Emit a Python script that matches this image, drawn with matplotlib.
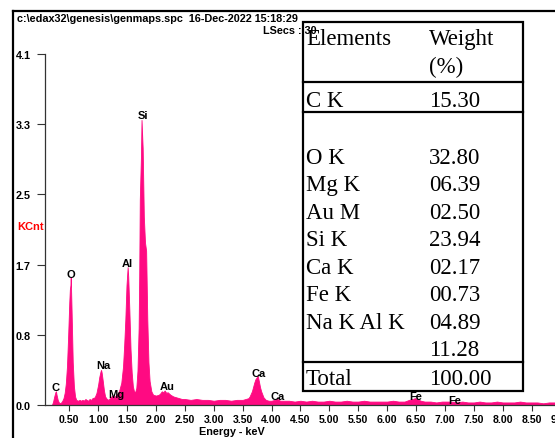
import numpy as np
import matplotlib
matplotlib.use("Agg")
import matplotlib.pyplot as plt
from matplotlib.patches import Rectangle

# spectrum: energy (keV) and counts (KCnt)
energy_kev = [
    0.20, 0.22, 0.24, 0.26, 0.27, 0.28, 0.30, 0.32, 0.34, 0.36, 0.38, 0.40,
    0.42, 0.44, 0.46, 0.48, 0.50, 0.51, 0.52, 0.525, 0.53, 0.54, 0.55, 0.56,
    0.58, 0.60, 0.62, 0.65, 0.68, 0.70, 0.73, 0.75, 0.78, 0.80, 0.83, 0.85,
    0.88, 0.90, 0.94, 0.97, 1.00, 1.02, 1.04, 1.05, 1.06, 1.08, 1.10, 1.12,
    1.15, 1.18, 1.20, 1.23, 1.25, 1.28, 1.30, 1.32, 1.36, 1.40, 1.43, 1.45,
    1.47, 1.49, 1.51, 1.52, 1.54, 1.56, 1.58, 1.60, 1.62, 1.64, 1.66, 1.68,
    1.70, 1.71, 1.72, 1.74, 1.75, 1.77, 1.79, 1.81, 1.83, 1.85, 1.87, 1.89,
    1.92, 1.95, 2.00, 2.05, 2.08, 2.10, 2.13, 2.15, 2.18, 2.20, 2.25, 2.30,
    2.35, 2.40, 2.45, 2.50, 2.60, 2.70, 2.80, 2.90, 3.00, 3.10, 3.20, 3.30,
    3.40, 3.50, 3.55, 3.60, 3.62, 3.66, 3.70, 3.72, 3.74, 3.76, 3.78, 3.80,
    3.82, 3.86, 3.90, 3.95, 4.00, 4.05, 4.10, 4.15, 4.20, 4.30, 4.40, 4.50,
    4.60, 4.70, 4.80, 4.90, 5.00, 5.10, 5.20, 5.30, 5.40, 5.50, 5.60, 5.70,
    5.80, 5.90, 6.00, 6.10, 6.20, 6.30, 6.38, 6.44, 6.48, 6.52, 6.58, 6.65,
    6.75, 6.85, 6.95, 7.05, 7.10, 7.20, 7.30, 7.40, 7.50, 7.60, 7.70, 7.80,
    7.90, 8.00, 8.10, 8.20, 8.30, 8.40, 8.50, 8.60, 8.70, 8.80, 8.90, 9.00,
    9.10, 9.25,
]
counts_kcnt = [
    0.00, 0.04, 0.10, 0.15, 0.16, 0.12, 0.06, 0.03, 0.02, 0.03, 0.05, 0.08,
    0.14, 0.25, 0.45, 0.80, 1.20, 1.35, 1.40, 1.49, 1.38, 1.10, 0.80, 0.50,
    0.22, 0.10, 0.06, 0.05, 0.06, 0.05, 0.06, 0.05, 0.07, 0.06, 0.05, 0.07,
    0.06, 0.08, 0.09, 0.14, 0.24, 0.33, 0.39, 0.41, 0.38, 0.28, 0.17, 0.10,
    0.07, 0.06, 0.08, 0.10, 0.11, 0.09, 0.11, 0.12, 0.16, 0.26, 0.45, 0.70,
    1.00, 1.40, 1.61, 1.50, 1.10, 0.65, 0.38, 0.22, 0.16, 0.15, 0.20, 0.40,
    0.90, 1.50, 2.40, 2.90, 3.33, 3.00, 2.20, 1.90, 1.80, 1.00, 0.50, 0.28,
    0.16, 0.12, 0.11, 0.12, 0.14, 0.16, 0.15, 0.17, 0.14, 0.15, 0.12, 0.10,
    0.09, 0.08, 0.07, 0.07, 0.06, 0.07, 0.06, 0.06, 0.05, 0.06, 0.06, 0.05,
    0.06, 0.06, 0.07, 0.08, 0.10, 0.16, 0.26, 0.30, 0.32, 0.34, 0.28, 0.21,
    0.16, 0.09, 0.06, 0.05, 0.05, 0.06, 0.07, 0.05, 0.05, 0.05, 0.04, 0.05,
    0.04, 0.05, 0.04, 0.04, 0.05, 0.04, 0.04, 0.05, 0.04, 0.04, 0.05, 0.04,
    0.04, 0.04, 0.04, 0.05, 0.04, 0.04, 0.06, 0.07, 0.08, 0.07, 0.05, 0.04,
    0.04, 0.03, 0.04, 0.04, 0.04, 0.03, 0.04, 0.03, 0.03, 0.04, 0.03, 0.03,
    0.04, 0.03, 0.03, 0.03, 0.04, 0.03, 0.03, 0.03, 0.02, 0.03, 0.03, 0.02,
    0.03, 0.02,
]

# peak labels (element, energy, height)
peak_names = ["C", "O", "Na", "Mg", "Al", "Si", "Au", "Ca", "Ca", "Fe", "Fe"]
peak_kev = [0.26, 0.52, 1.09, 1.31, 1.50, 1.77, 2.19, 3.77, 4.11, 6.50, 7.16]
peak_kcnt = [0.21, 1.53, 0.47, 0.13, 1.66, 3.39, 0.22, 0.37, 0.11, 0.10, 0.06]

x_ticks = [0.5, 1.0, 1.5, 2.0, 2.5, 3.0, 3.5, 4.0, 4.5, 5.0, 5.5, 6.0, 6.5,
           7.0, 7.5, 8.0, 8.5, 9.0]
y_ticks = [0.0, 0.82, 1.64, 2.46, 3.28, 4.1]
y_tick_labels = ["0.0", "0.8", "1.7", "2.5", "3.3", "4.1"]

# weight table
table_elements = ["O K", "Mg K", "Au M", "Si K", "Ca K", "Fe K", "Na K Al K", ""]
table_weights = ["32.80", "06.39", "02.50", "23.94", "02.17", "00.73", "04.89", "11.28"]
carbon_row = ("C K", "15.30")
total_row = ("Total", "100.00")

pink = "#FF0A82"
W, H = 555, 439

fig = plt.figure(figsize=(5.55, 4.39), dpi=100)

# spectrum axes, in pixel layout
left, right, top, bottom = 45, 575, 55, 406
ax = fig.add_axes([left / W, 1 - bottom / H, (right - left) / W, (bottom - top) / H])
ax.fill_between(energy_kev, counts_kcnt, color=pink, lw=0.6, edgecolor=pink)
ax.set_xlim(0.08, 9.25)
ax.set_ylim(0, 4.1)
ax.patch.set_alpha(0)
for s in ["top", "right"]:
    ax.spines[s].set_visible(False)
for s in ["left", "bottom"]:
    ax.spines[s].set_color("#333333")
    ax.spines[s].set_linewidth(0.9)

ax.set_xticks(x_ticks)
ax.set_xticklabels(["%.2f" % t for t in x_ticks], fontweight="bold",
                   fontsize=7.6, family="Liberation Sans")
ax.set_yticks(y_ticks)
ax.set_yticklabels(y_tick_labels, fontweight="bold", fontsize=7.8,
                   family="Liberation Sans")
ax.tick_params(axis="x", direction="out", length=4.3, width=0.8, pad=2.5,
               color="#333333")
ax.tick_params(axis="y", direction="out", length=5.8, width=0.8, pad=4.5,
               color="#333333")

for name, e, c in zip(peak_names, peak_kev, peak_kcnt):
    ax.text(e, c, name, ha="center", va="center", fontsize=8,
            fontweight="bold", family="Liberation Sans")

# overlay in pixel coordinates for the frame, header and table
ov = fig.add_axes([0, 0, 1, 1])
ov.set_xlim(0, W)
ov.set_ylim(H, 0)
ov.axis("off")
ov.patch.set_alpha(0)

ov.plot([13, 13], [11.5, H], color="black", lw=1.6)
ov.plot([13, W], [11.5, 11.5], color="black", lw=1.6)

hdr = dict(fontsize=7.8, fontweight="bold", family="Liberation Sans", va="center")
ov.text(17, 19.5, "c:\\edax32\\genesis\\genmaps.spc  16-Dec-2022 15:18:29", **hdr)
ov.text(232, 432, "Energy - keV", ha="center", **hdr)
ov.text(17, 227, "KCnt", color="#FF0000", fontsize=8, fontweight="bold",
        family="Liberation Sans", va="center")

tx0, tx1, ty0, ty1 = 303, 522.5, 22.7, 392
ov.add_patch(Rectangle((tx0, ty0), tx1 - tx0, ty1 - ty0, facecolor="white",
                       edgecolor="black", lw=1.6, zorder=2))
for yl in [83.3, 113.3, 362.7]:
    ov.plot([tx0, tx1], [yl, yl], color="black", lw=1.6, zorder=3)

serif = dict(fontsize=16.5, family="Liberation Serif", va="baseline", zorder=4)
c1, c2 = 306, 429
ov.text(c1, 45, "Elements", **serif)
ov.text(c2, 45, "Weight", **serif)
ov.text(c2, 73, "(%)", **serif)
ov.text(c1, 106.7, carbon_row[0], **serif)
ov.text(c2, 106.7, carbon_row[1], **serif)
for i, (el, wt) in enumerate(zip(table_elements, table_weights)):
    yb = 164 + 27.5 * i
    ov.text(c1, yb, el, **serif)
    ov.text(c2, yb, wt, **serif)
ov.text(c1, 385, total_row[0], **serif)
ov.text(c2, 385, total_row[1], **serif)

ov.text(263, 31, "LSecs : 30", zorder=5, **hdr)

fig.savefig("out.png", dpi=100)
